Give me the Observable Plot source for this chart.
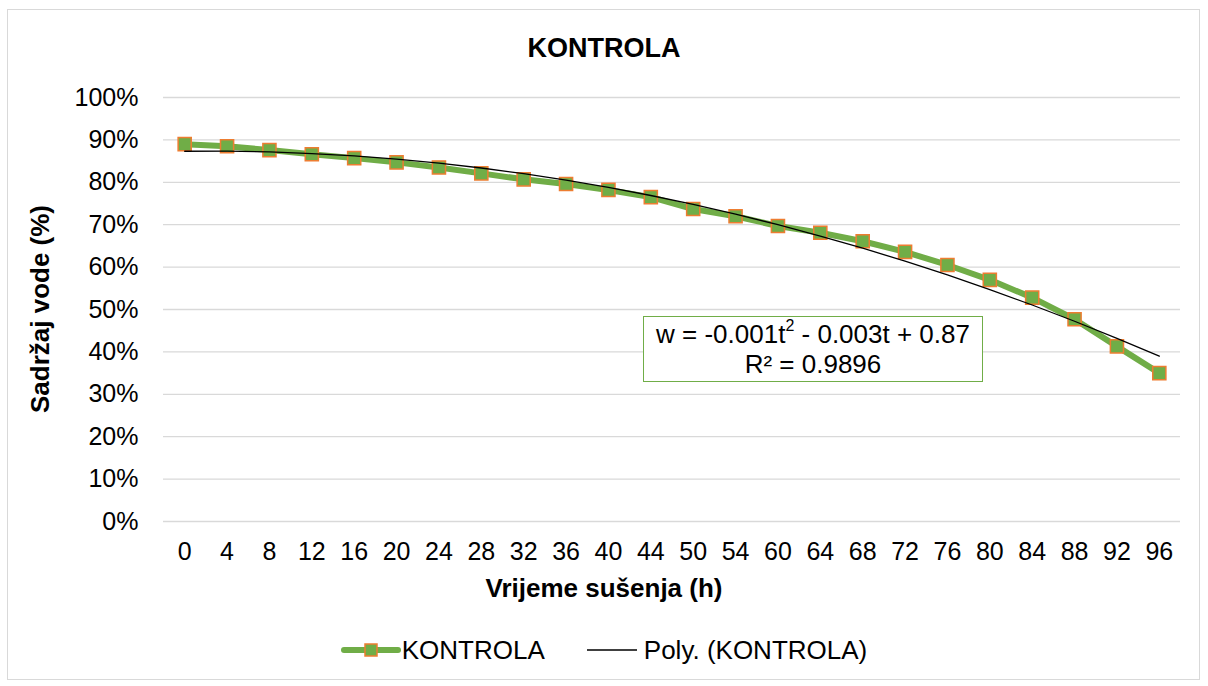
<!DOCTYPE html>
<html>
<head>
<meta charset="utf-8">
<script src="https://cdn.jsdelivr.net/npm/d3@7"></script>
<script src="https://cdn.jsdelivr.net/npm/@observablehq/plot@0.6"></script>
<style>
  html, body { margin: 0; padding: 0; background: #fff; }
  body { font-family: "Liberation Sans", Arial, sans-serif; color: #000; }
  #wrap { position: relative; width: 1208px; height: 686px; overflow: hidden; }
  #frame { position: absolute; left: 7px; top: 9px; width: 1193px; height: 671px; box-sizing: border-box; border: 1.3px solid #d9d9d9; }
  #title { position: absolute; left: 0; width: 1208px; top: 31px; text-align: center; font-size: 27px; font-weight: bold; line-height: 34px; }
  #chart { position: absolute; left: 0; top: 0; }
  #ytitle { position: absolute; left: 40px; top: 309px; transform: translate(-50%, -50%) rotate(-90deg); font-size: 26px; font-weight: bold; white-space: nowrap; line-height: 30px; }
  #xtitle { position: absolute; left: 0; width: 1208px; top: 573px; text-align: center; font-size: 26px; font-weight: bold; line-height: 30px; }
  #note { position: absolute; left: 643px; top: 316px; width: 340px; height: 66px; box-sizing: border-box; border: 1.5px solid #70ad47; background: #fff; text-align: center; font-size: 26px; line-height: 30px; padding-top: 2px; }
  #note sup { font-size: 16px; line-height: 0; position: relative; top: -2px; }
  #legend { position: absolute; left: 0; width: 1208px; top: 635px; display: flex; justify-content: center; align-items: center; font-size: 26px; line-height: 30px; }
  #legend .item { display: flex; align-items: center; }
</style>
</head>
<body>
<div id="wrap">
  <div id="frame"></div>
  <div id="title">KONTROLA</div>
  <div id="chart"></div>
  <div id="ytitle">Sadržaj vode (%)</div>
  <div id="xtitle">Vrijeme sušenja (h)</div>
  <div id="note">w = -0.001t<sup>2</sup> - 0.003t + 0.87<br>R² = 0.9896</div>
  <div id="legend"></div>
</div>
<script>
// Drying time categories (h)
const times = ["0","4","8","12","16","20","24","28","32","36","40","44","50","54","60","64","68","72","76","80","84","88","92","96"];
// Water content (fraction)
const water = [0.890,0.885,0.876,0.866,0.857,0.847,0.835,0.821,0.807,0.796,0.782,0.765,0.737,0.720,0.697,0.681,0.661,0.636,0.605,0.570,0.528,0.477,0.413,0.350];
// Y axis ticks
const yTicks = [0,0.1,0.2,0.3,0.4,0.5,0.6,0.7,0.8,0.9,1.0];

const seriesName = "KONTROLA";
const trendName = "Poly. (KONTROLA)";

const data = times.map((t, i) => ({t, w: water[i], i: i + 1}));

// Quadratic least-squares trendline (like Excel's polynomial trendline, order 2, x = 1..n)
function quadFit(xs, ys) {
  let S = [0,0,0,0,0], T = [0,0,0];
  for (let k = 0; k < xs.length; k++) {
    const x = xs[k], y = ys[k];
    let p = 1;
    for (let e = 0; e <= 4; e++) { S[e] += p; if (e <= 2) T[e] += p * y; p *= x; }
  }
  const A = [[S[0],S[1],S[2],T[0]],[S[1],S[2],S[3],T[1]],[S[2],S[3],S[4],T[2]]];
  for (let c = 0; c < 3; c++) {
    let piv = c;
    for (let r = c + 1; r < 3; r++) if (Math.abs(A[r][c]) > Math.abs(A[piv][c])) piv = r;
    [A[c], A[piv]] = [A[piv], A[c]];
    for (let r = 0; r < 3; r++) {
      if (r === c) continue;
      const f = A[r][c] / A[c][c];
      for (let k = c; k < 4; k++) A[r][k] -= f * A[c][k];
    }
  }
  return [A[0][3]/A[0][0], A[1][3]/A[1][1], A[2][3]/A[2][2]];
}
const [c0, c1, c2] = quadFit(data.map(d => d.i), data.map(d => d.w));
const trend = data.map(d => ({t: d.t, w: c0 + c1 * d.i + c2 * d.i * d.i}));

const plot = Plot.plot({
  width: 1208,
  height: 581,
  marginTop: 97,
  marginBottom: 60,
  marginLeft: 163,
  marginRight: 28,
  style: { fontFamily: "'Liberation Sans', Arial, sans-serif", fontSize: "25px", color: "#000", background: "transparent" },
  x: { type: "point", domain: times, padding: 0.5, round: false, label: null },
  y: { domain: [0, 1], label: null },
  marks: [
    Plot.gridY(yTicks, { stroke: "#d9d9d9", strokeOpacity: 1, strokeWidth: 1.3 }),
    Plot.axisY({ ticks: yTicks, tickFormat: d3.format(".0%"), tickSize: 0, tickPadding: 25, label: null, fontSize: 25 }),
    Plot.axisX({ tickSize: 0, tickPadding: 21, label: null, fontSize: 25 }),
    Plot.line(data, { x: "t", y: "w", stroke: "#70ad47", strokeWidth: 6, strokeLinejoin: "round", strokeLinecap: "round" }),
    Plot.dot(data, { x: "t", y: "w", symbol: "square", r: 7.4, fill: "#70ad47", stroke: "#ed7d31", strokeWidth: 1.5 }),
    Plot.line(trend, { x: "t", y: "w", stroke: "#000", strokeWidth: 1.3 })
  ]
});
document.getElementById("chart").appendChild(plot);

// Legend
const legend = d3.select("#legend");
const item1 = legend.append("div").attr("class", "item");
const s1 = item1.append("svg").attr("width", 60).attr("height", 20);
s1.append("line").attr("x1", 3).attr("x2", 57).attr("y1", 10).attr("y2", 10)
  .attr("stroke", "#70ad47").attr("stroke-width", 6).attr("stroke-linecap", "round");
s1.append("rect").attr("x", 24).attr("y", 4).attr("width", 12).attr("height", 12)
  .attr("fill", "#70ad47").attr("stroke", "#ed7d31").attr("stroke-width", 1.5);
item1.append("span").text(seriesName).style("margin-left", "1px");
const item2 = legend.append("div").attr("class", "item").style("margin-left", "42px");
const s2 = item2.append("svg").attr("width", 52).attr("height", 20);
s2.append("line").attr("x1", 0).attr("x2", 50).attr("y1", 10).attr("y2", 10)
  .attr("stroke", "#000").attr("stroke-width", 1.3);
item2.append("span").text(trendName).style("margin-left", "5px");
</script>
</body>
</html>
